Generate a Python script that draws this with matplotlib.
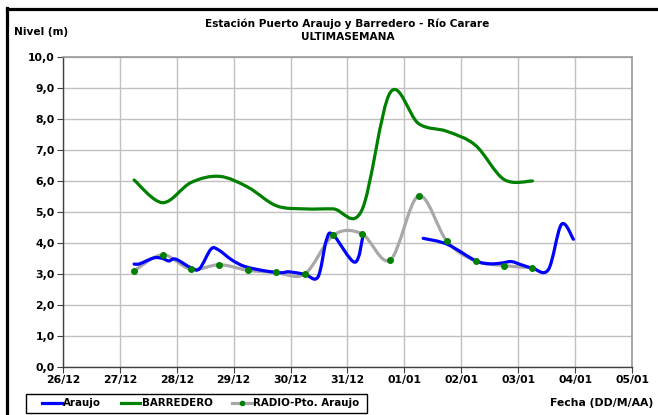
import matplotlib.pyplot as plt
import numpy as np
from matplotlib.lines import Line2D
from matplotlib.patches import PathPatch, Rectangle
from matplotlib.path import Path

# days counted from 26/12 00:00
DAY_LABELS = ["26/12", "27/12", "28/12", "29/12", "30/12", "31/12",
              "01/01", "02/01", "03/01", "04/01", "05/01"]

ARAUJO_T = [1.25, 1.35, 1.6, 1.75, 1.86, 1.98, 2.25, 2.4, 2.6, 2.73, 2.97,
            3.2, 3.55, 3.84, 3.97, 4.25, 4.48, 4.63, 4.75, 5.13, 5.28, np.nan,
            6.33, 6.75, 7.25, 7.5, 7.7, 7.88, 8.05, 8.25, 8.53, 8.76, 8.97]
ARAUJO_V = [3.32, 3.33, 3.52, 3.5, 3.42, 3.48, 3.2, 3.17, 3.8, 3.78, 3.45,
            3.24, 3.1, 3.04, 3.07, 2.99, 2.9, 4.1, 4.26, 3.38, 4.31, np.nan,
            4.15, 3.96, 3.43, 3.33, 3.35, 3.4, 3.3, 3.19, 3.14, 4.6, 4.12]

HALF_DAYS = [1.25, 1.75, 2.25, 2.75, 3.25, 3.75, 4.25, 4.75,
             5.25, 5.75, 6.25, 6.75, 7.25, 7.75, 8.25]
BARREDERO_V = [6.03, 5.3, 5.95, 6.15, 5.8, 5.2, 5.1, 5.1,
               5.05, 8.85, 7.85, 7.6, 7.15, 6.05, 6.0]
RADIO_V = [3.1, 3.62, 3.15, 3.3, 3.12, 3.05, 3.0, 4.25,
           4.3, 3.45, 5.52, 4.05, 3.42, 3.27, 3.2]

BLUE = "#0000ff"
GREEN = "#008000"
GRAY = "#a8a8a8"
FONT = "DejaVu Sans"


def smooth_path(xs, ys):
    # excel style smoothed line: cubic bezier through every point
    pts = np.column_stack([xs, ys])
    verts = [pts[0]]
    codes = [Path.MOVETO]
    n = len(pts)
    for i in range(n - 1):
        p0 = pts[max(i - 1, 0)]
        p1 = pts[i]
        p2 = pts[i + 1]
        p3 = pts[min(i + 2, n - 1)]
        verts += [p1 + (p2 - p0) / 6, p2 - (p3 - p1) / 6, p2]
        codes += [Path.CURVE4] * 3
    return Path(verts, codes)


def add_smooth(ax, xs, ys, color, lw):
    xs = np.asarray(xs, float)
    ys = np.asarray(ys, float)
    breaks = np.where(np.isnan(xs))[0]
    for seg_x, seg_y in zip(np.split(xs, breaks), np.split(ys, breaks)):
        ok = ~np.isnan(seg_x)
        if ok.sum() < 2:
            continue
        patch = PathPatch(smooth_path(seg_x[ok], seg_y[ok]), fill=False,
                          edgecolor=color, lw=lw, capstyle="round",
                          joinstyle="round", transform=ax.transData)
        ax.add_patch(patch)


def main():
    plt.rcParams["font.family"] = [FONT]
    plt.rcParams["font.weight"] = "bold"

    fig = plt.figure(figsize=(6.58, 4.15), dpi=100)
    ax = fig.add_axes([0.0957, 0.1157, 0.8648, 0.747])

    add_smooth(ax, HALF_DAYS, BARREDERO_V, GREEN, 2.3)
    add_smooth(ax, HALF_DAYS, RADIO_V, GRAY, 2.3)
    ax.plot(HALF_DAYS, RADIO_V, linestyle="none", marker="o", ms=4,
            color=GREEN, zorder=3)
    add_smooth(ax, ARAUJO_T, ARAUJO_V, BLUE, 2.3)

    ax.set_xlim(0, 10)
    ax.set_ylim(0, 10)
    ax.set_xticks(range(len(DAY_LABELS)))
    ax.set_xticklabels(DAY_LABELS)
    ax.set_yticks(np.arange(0, 11))
    ax.set_yticklabels([f"{v:.1f}".replace(".", ",") for v in range(11)])
    ax.tick_params(labelsize=7.8, length=4, width=0.8, color="#404040", pad=2)
    ax.grid(True, color="#c0c0c0", lw=1)
    ax.set_axisbelow(True)
    for side in ["top", "right"]:
        ax.spines[side].set_color("#999999")
        ax.spines[side].set_linewidth(1.2)
    for side in ["left", "bottom"]:
        ax.spines[side].set_color("#404040")
        ax.spines[side].set_linewidth(1.0)

    fig.text(0.528, 0.942, "Estación Puerto Araujo y Barredero - Río Carare",
             ha="center", va="center", fontsize=7.6)
    fig.text(0.528, 0.911, "ULTIMASEMANA", ha="center", va="center",
             fontsize=7.6)
    fig.text(0.022, 0.922, "Nivel (m)", ha="left", va="center", fontsize=7.6)
    fig.text(0.993, 0.028, "Fecha (DD/M/AA)", ha="right", va="center",
             fontsize=7.8)

    handles = [
        Line2D([], [], color=BLUE, lw=2.3),
        Line2D([], [], color=GREEN, lw=2.3),
        Line2D([], [], color=GRAY, lw=2.3, marker="o", ms=3,
               markerfacecolor=GREEN, markeredgecolor=GREEN),
    ]
    fig.legend(handles, ["Araujo", "BARREDERO", "RADIO-Pto. Araujo"],
               loc="center left", bbox_to_anchor=(0.064, 0.028),
               ncol=3, fontsize=7.4, frameon=False,
               handlelength=1.9, handletextpad=0.15,
               columnspacing=1.9, borderpad=0, borderaxespad=0)
    fig.add_artist(Rectangle((0.039, 0.005), 0.519, 0.046, fill=False,
                             edgecolor="black", lw=1.0,
                             transform=fig.transFigure))

    # heavy black frame on top and left, as in the original export
    fig.add_artist(Line2D([0.011, 1.0], [0.978, 0.978], color="black",
                          lw=2.3, transform=fig.transFigure))
    fig.add_artist(Line2D([0.0099, 0.0099], [0.0, 0.98], color="black",
                          lw=2.3, transform=fig.transFigure))

    fig.savefig("out.png", dpi=100)


if __name__ == "__main__":
    main()
